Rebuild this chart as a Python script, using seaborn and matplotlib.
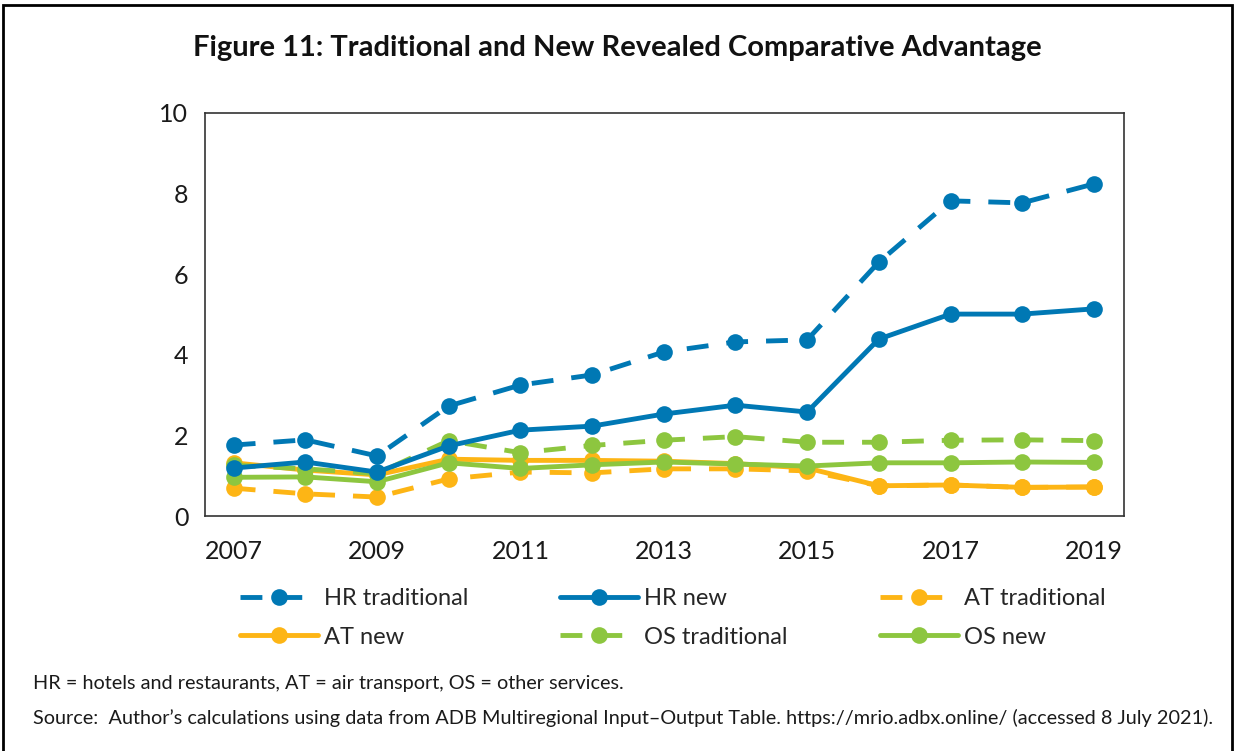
import pandas as pd
import matplotlib.pyplot as plt
import matplotlib.patches as mpatches
import seaborn as sns

# data
years = list(range(2007, 2020))
hr_traditional = [1.76, 1.89, 1.49, 2.73, 3.25, 3.50, 4.07, 4.32, 4.37, 6.30, 7.82, 7.77, 8.24]
hr_new = [1.19, 1.34, 1.09, 1.74, 2.13, 2.23, 2.53, 2.75, 2.58, 4.39, 5.01, 5.01, 5.14]
at_traditional = [0.69, 0.55, 0.47, 0.92, 1.09, 1.07, 1.17, 1.17, 1.12, 0.75, 0.77, 0.71, 0.72]
at_new = [1.32, 1.14, 1.02, 1.41, 1.38, 1.38, 1.36, 1.30, 1.19, 0.75, 0.77, 0.71, 0.72]
os_traditional = [1.26, 1.17, 1.05, 1.87, 1.57, 1.75, 1.88, 1.97, 1.83, 1.83, 1.88, 1.89, 1.87]
os_new = [0.96, 0.97, 0.85, 1.32, 1.18, 1.27, 1.34, 1.29, 1.24, 1.32, 1.32, 1.34, 1.33]

series = {
    'HR traditional': hr_traditional,
    'HR new': hr_new,
    'AT traditional': at_traditional,
    'AT new': at_new,
    'OS traditional': os_traditional,
    'OS new': os_new,
}

blue = '#0078B4'
orange = '#FDB515'
green = '#8DC63F'
colors = {
    'HR traditional': blue, 'HR new': blue,
    'AT traditional': orange, 'AT new': orange,
    'OS traditional': green, 'OS new': green,
}

rows = []
for name, vals in series.items():
    for y, v in zip(years, vals):
        rows.append({'year': y, 'value': v, 'series': name})
df = pd.DataFrame(rows)

sns.set_style('white')
plt.rcParams['font.family'] = ['Lato', 'DejaVu Sans']

fig = plt.figure(figsize=(12.35, 7.51), dpi=100)
ax = fig.add_axes([205 / 1235, 1 - 516 / 751, (1124 - 205) / 1235, (516 - 113) / 751])

# draw order: back to front
draw_order = ['AT traditional', 'AT new', 'OS traditional', 'OS new', 'HR traditional', 'HR new']
for name in draw_order:
    dashed = 'traditional' in name
    sns.lineplot(data=df[df['series'] == name], x='year', y='value', ax=ax,
                 color=colors[name], linewidth=3.5, marker='o', markersize=12,
                 markeredgewidth=0, label=name,
                 linestyle=(0, (4.5, 3.7)) if dashed else '-')

ax.set_xlim(2006.6, 2019.42)
ax.set_ylim(0, 10)
ax.set_xticks(range(2007, 2020, 2))
ax.set_yticks(range(0, 11, 2))
ax.set_xlabel('')
ax.set_ylabel('')
ax.tick_params(axis='both', labelsize=18, length=6, width=1.2, direction='out',
               colors='#222222', labelcolor='#1a1a1a')
ax.tick_params(axis='x', pad=11)
ax.tick_params(axis='y', pad=6)
for sp in ax.spines.values():
    sp.set_color('#333333')
    sp.set_linewidth(1.2)
ax.legend_.remove()

# legend: 3 columns, filled row-wise
handles, labels = ax.get_legend_handles_labels()
lookup = dict(zip(labels, handles))
leg_order = ['HR traditional', 'AT new', 'HR new', 'OS traditional', 'AT traditional', 'OS new']
fig.legend([lookup[n] for n in leg_order], leg_order, loc='upper left',
           bbox_to_anchor=(240 / 1235, 1 - 588 / 751), ncol=3, frameon=False,
           fontsize=17, handlelength=3.3, columnspacing=3.9, labelspacing=0.75,
           handletextpad=0.25, borderpad=0, borderaxespad=0)

fig.text(0.5, 1 - 48 / 751, 'Figure 11: Traditional and New Revealed Comparative Advantage',
         ha='center', va='center', fontsize=21, fontweight='bold', color='#111111')
fig.text(33 / 1235, 1 - 684 / 751,
         'HR = hotels and restaurants, AT = air transport, OS = other services.',
         ha='left', va='center', fontsize=14.3, color='#1a1a1a')
fig.text(33 / 1235, 1 - 718 / 751,
         'Source:  Author\u2019s calculations using data from ADB Multiregional Input\u2013Output Table. '
         'https://mrio.adbx.online/ (accessed 8 July 2021).',
         ha='left', va='center', fontsize=14.3, color='#1a1a1a')

# outer frame of the figure box
fig.patches.append(mpatches.Rectangle((3 / 1235, -0.01), 1229 / 1235, 1 - 5 / 751 + 0.01,
                                      transform=fig.transFigure, fill=False,
                                      edgecolor='black', linewidth=2))

fig.savefig('out.png', dpi=100)
